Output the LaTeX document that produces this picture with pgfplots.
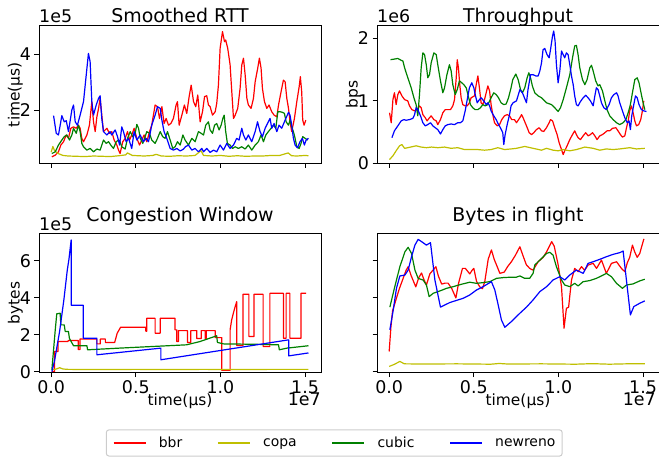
\documentclass[border=0pt]{standalone}
\usepackage{pgfplots}
\pgfplotsset{compat=1.18}
\usepackage{fontspec}
\setmainfont{DejaVu Sans}
\definecolor{mred}{rgb}{1,0,0}
\definecolor{myel}{rgb}{0.75,0.75,0}
\definecolor{mgreen}{rgb}{0,0.5,0}
\definecolor{mblue}{rgb}{0,0,1}
\newcommand\tkf{\fontsize{17.5}{20}\selectfont}
\newcommand\lbf{\fontsize{15.5}{18}\selectfont}
\pgfplotsset{
 every axis title/.style={at={(0.5,1)}, anchor=base, font=\fontsize{19}{22}\selectfont},
 every axis y label/.style={at={(axis description cs:-0.069,0.5)}, rotate=90, anchor=base, font=\lbf},
 every axis x label/.style={at={(axis description cs:0.5,-0.232)}, anchor=base, font=\lbf},
 base/.style={
  scale only axis, width=282bp,
  xmin=-0.072, xmax=1.594,
  xtick={0,0.5,1,1.5},
  xticklabels={0.0,0.5,1.0,1.5},
  tick align=outside, major tick length=4.5bp,
  tick pos=left,
  clip=false,
  axis line style={line width=1bp},
  every tick/.style={black, line width=1bp},
  tick label style={font=\tkf},
  /pgf/number format/assume math mode=true,
  every axis plot/.append style={line width=1.2bp, line join=round},
  axis on top,
 },
 top/.style={base, height=137.3bp, xticklabels={}, title style={yshift=3.5bp}},
 bot/.style={base, height=139.4bp, ymin=-0.05, ymax=7.5, ytick={0,2,4,6}, title style={yshift=12bp}, xlabel={time(μs)}},
}
\begin{document}
\begin{tikzpicture}
\useasboundingbox (0,0) rectangle (659bp,459bp);
% ---------------- Smoothed RTT
\begin{axis}[top, at={(39bp,295.7bp)}, anchor=south west,
  ymin=0.1, ymax=5.0, ytick={2,4}, title={Smoothed RTT}, ylabel={time(μs)}]
\addplot[mred] coordinates {(0.004,0.33)(0.024,0.39)(0.043,0.51)(0.057,0.75)(0.073,0.87)(0.089,1.11)(0.102,0.99)(0.116,1.35)(0.132,1.40)(0.148,1.35)(0.161,1.46)(0.171,1.35)(0.181,0.99)(0.191,0.87)(0.211,1.11)(0.226,1.46)(0.240,2.30)(0.250,1.58)(0.260,1.23)(0.270,1.76)(0.280,2.06)(0.289,2.42)(0.299,1.82)(0.309,1.23)(0.329,1.35)(0.344,1.17)(0.358,1.23)(0.372,0.93)(0.388,0.75)(0.398,0.57)(0.407,0.45)(0.423,0.87)(0.437,0.99)(0.451,1.23)(0.463,0.93)(0.476,1.11)(0.490,1.35)(0.506,0.99)(0.522,0.75)(0.535,0.93)(0.549,1.11)(0.565,0.87)(0.581,1.23)(0.594,1.46)(0.614,2.18)(0.628,2.12)(0.640,1.70)(0.654,2.12)(0.667,1.52)(0.679,1.70)(0.693,1.46)(0.707,1.52)(0.722,1.70)(0.738,2.18)(0.746,2.30)(0.756,1.46)(0.772,1.82)(0.787,2.18)(0.801,1.88)(0.815,2.48)(0.827,2.89)(0.841,2.30)(0.854,2.12)(0.866,2.54)(0.880,1.58)(0.894,1.94)(0.906,2.48)(0.919,2.51)(0.929,2.18)(0.939,2.12)(0.953,1.82)(0.969,1.94)(0.978,2.24)(0.988,2.89)(0.998,4.20)(1.012,4.80)(1.024,4.44)(1.031,4.50)(1.043,4.20)(1.057,3.61)(1.067,2.65)(1.077,1.70)(1.087,1.82)(1.102,2.06)(1.116,2.77)(1.126,3.61)(1.136,3.85)(1.146,3.25)(1.156,2.42)(1.165,2.18)(1.181,2.06)(1.195,2.42)(1.205,3.01)(1.220,3.49)(1.230,3.85)(1.240,3.49)(1.248,2.77)(1.260,2.30)(1.274,2.06)(1.287,2.18)(1.303,1.94)(1.317,1.82)(1.333,1.76)(1.343,2.18)(1.358,2.65)(1.372,3.07)(1.382,3.01)(1.392,2.42)(1.402,2.06)(1.411,1.58)(1.421,1.23)(1.437,1.70)(1.451,2.30)(1.465,2.83)(1.472,3.19)(1.480,2.65)(1.486,1.64)(1.494,1.46)(1.504,1.64)};
\addplot[myel] coordinates {(0,0.5)(0.01,0.7)(0.02,0.55)(0.04,0.45)(0.07,0.38)(0.1,0.36)(0.15,0.35)(0.2,0.34)(0.25,0.36)(0.3,0.35)(0.35,0.34)(0.4,0.37)(0.44,0.40)(0.45,0.47)(0.48,0.38)(0.55,0.36)(0.6,0.38)(0.62,0.42)(0.65,0.36)(0.7,0.35)(0.75,0.37)(0.8,0.36)(0.85,0.38)(0.885,0.55)(0.9,0.38)(0.95,0.36)(1.0,0.38)(1.05,0.35)(1.1,0.37)(1.15,0.35)(1.2,0.36)(1.25,0.36)(1.3,0.38)(1.35,0.38)(1.4,0.47)(1.42,0.37)(1.45,0.36)(1.5,0.38)(1.52,0.37)};
\addplot[mgreen] coordinates {(0.004,0.45)(0.024,0.51)(0.043,0.75)(0.063,0.93)(0.077,1.05)(0.093,1.11)(0.108,0.93)(0.122,1.11)(0.132,1.35)(0.148,1.17)(0.161,1.46)(0.171,1.23)(0.181,0.81)(0.191,0.69)(0.211,0.57)(0.230,0.63)(0.250,0.51)(0.270,0.61)(0.289,0.57)(0.309,0.93)(0.325,0.81)(0.339,0.87)(0.352,0.75)(0.368,0.63)(0.384,0.87)(0.398,0.93)(0.407,0.87)(0.417,0.69)(0.437,0.61)(0.451,0.99)(0.467,1.23)(0.482,1.05)(0.496,1.17)(0.506,1.49)(0.516,1.35)(0.526,0.99)(0.541,0.81)(0.555,1.05)(0.565,1.23)(0.581,1.17)(0.594,0.93)(0.614,0.81)(0.628,0.99)(0.644,1.23)(0.659,1.05)(0.673,0.99)(0.687,1.23)(0.703,0.93)(0.718,0.63)(0.732,0.69)(0.746,0.87)(0.762,0.75)(0.778,1.11)(0.791,0.93)(0.811,0.75)(0.831,0.99)(0.850,0.87)(0.870,1.23)(0.886,1.17)(0.900,1.11)(0.913,1.46)(0.929,1.58)(0.939,1.29)(0.953,1.17)(0.965,1.46)(0.978,1.52)(0.992,1.29)(1.004,1.46)(1.014,1.70)(1.022,1.82)(1.031,1.23)(1.041,0.81)(1.057,0.75)(1.071,0.63)(1.087,0.69)(1.106,0.63)(1.126,0.69)(1.146,0.61)(1.165,0.75)(1.185,0.57)(1.205,0.75)(1.224,0.87)(1.240,1.11)(1.254,0.87)(1.268,1.11)(1.283,1.23)(1.299,1.35)(1.313,1.46)(1.327,1.35)(1.339,1.94)(1.352,1.94)(1.366,1.92)(1.378,1.88)(1.388,1.58)(1.402,1.46)(1.411,1.64)(1.421,1.40)(1.431,1.23)(1.441,0.99)(1.451,0.69)(1.465,0.63)(1.476,0.81)(1.486,1.05)(1.500,0.99)(1.516,0.93)};
\addplot[mblue] coordinates {(0.014,1.80)(0.030,1.17)(0.043,1.11)(0.063,1.80)(0.077,1.58)(0.089,1.62)(0.102,1.23)(0.122,2.00)(0.132,2.18)(0.142,1.58)(0.155,1.46)(0.171,1.82)(0.191,2.30)(0.207,3.25)(0.220,4.02)(0.230,3.73)(0.240,2.30)(0.250,1.82)(0.266,2.18)(0.280,2.42)(0.289,2.51)(0.299,1.70)(0.309,1.23)(0.329,1.11)(0.348,1.23)(0.358,1.11)(0.378,1.29)(0.392,1.05)(0.404,0.75)(0.417,1.40)(0.427,1.23)(0.443,0.87)(0.457,0.99)(0.476,0.63)(0.490,1.23)(0.506,0.93)(0.526,1.11)(0.545,0.87)(0.561,0.99)(0.575,0.87)(0.594,1.46)(0.614,1.82)(0.628,2.12)(0.644,2.06)(0.654,1.64)(0.667,1.23)(0.683,0.99)(0.703,0.63)(0.722,0.57)(0.742,0.63)(0.762,0.54)(0.780,0.60)(0.795,0.70)(0.811,0.75)(0.831,0.57)(0.850,0.63)(0.870,0.51)(0.890,0.63)(0.900,0.51)(0.919,0.63)(0.939,0.49)(0.959,0.57)(0.978,0.51)(0.998,0.75)(1.018,0.57)(1.037,0.81)(1.057,0.63)(1.077,0.75)(1.096,0.99)(1.110,0.93)(1.126,1.35)(1.136,1.11)(1.150,0.93)(1.165,1.11)(1.185,0.87)(1.205,1.23)(1.219,1.58)(1.234,1.23)(1.248,1.05)(1.264,1.35)(1.283,1.58)(1.293,1.70)(1.303,1.35)(1.317,1.52)(1.333,1.23)(1.346,1.46)(1.362,1.35)(1.382,1.64)(1.402,1.92)(1.411,1.82)(1.421,1.46)(1.431,0.99)(1.441,0.75)(1.455,0.65)(1.470,0.87)(1.484,0.99)(1.496,0.75)(1.506,0.93)(1.520,0.99)};
\node[anchor=base west, font=\tkf, inner sep=0pt] at (rel axis cs:0,1) [yshift=3bp] {1e5};
\end{axis}
% ---------------- Throughput
\begin{axis}[top, at={(377bp,295.7bp)}, anchor=south west,
  ymin=0, ymax=2.2, ytick={0,1,2}, title={Throughput}, ylabel={bps}]
\addplot[mred] coordinates {(0.002,0.81)(0.012,0.65)(0.022,1.02)(0.031,1.13)(0.041,0.94)(0.051,1.10)(0.061,1.16)(0.075,1.08)(0.091,1.02)(0.110,1.00)(0.120,0.92)(0.134,0.86)(0.150,0.84)(0.165,0.86)(0.179,0.92)(0.189,0.89)(0.199,0.78)(0.213,0.73)(0.224,0.68)(0.238,0.73)(0.248,0.76)(0.264,0.70)(0.278,0.68)(0.287,0.62)(0.303,0.70)(0.317,0.81)(0.331,0.86)(0.346,0.86)(0.362,0.86)(0.376,0.92)(0.386,1.02)(0.396,1.37)(0.402,1.66)(0.409,1.53)(0.417,1.26)(0.425,1.05)(0.435,0.94)(0.449,0.92)(0.461,0.92)(0.474,0.97)(0.484,1.05)(0.504,1.08)(0.514,1.26)(0.524,1.40)(0.533,1.21)(0.543,0.97)(0.553,0.94)(0.563,1.02)(0.573,1.13)(0.583,1.24)(0.593,1.16)(0.602,0.94)(0.612,0.78)(0.622,0.65)(0.638,0.60)(0.652,0.62)(0.665,0.70)(0.681,0.76)(0.697,0.78)(0.711,0.76)(0.724,0.70)(0.740,0.70)(0.752,0.65)(0.772,0.73)(0.782,0.78)(0.791,0.73)(0.811,0.60)(0.827,0.49)(0.841,0.46)(0.854,0.49)(0.870,0.54)(0.886,0.57)(0.900,0.52)(0.913,0.51)(0.929,0.57)(0.945,0.65)(0.953,0.70)(0.965,0.68)(0.978,0.57)(0.992,0.46)(1.004,0.33)(1.018,0.22)(1.028,0.14)(1.037,0.20)(1.051,0.28)(1.067,0.38)(1.083,0.46)(1.096,0.52)(1.106,0.46)(1.116,0.41)(1.130,0.38)(1.146,0.44)(1.161,0.49)(1.175,0.44)(1.189,0.46)(1.201,0.49)(1.215,0.44)(1.228,0.38)(1.244,0.44)(1.260,0.46)(1.274,0.49)(1.287,0.52)(1.303,0.52)(1.319,0.56)(1.339,0.57)(1.352,0.52)(1.366,0.46)(1.378,0.42)(1.392,0.44)(1.402,0.57)(1.412,0.68)(1.421,0.84)(1.431,0.92)(1.441,0.81)(1.451,0.68)(1.461,0.60)(1.474,0.62)(1.486,0.70)(1.496,0.84)(1.504,1.00)};
\addplot[myel] coordinates {(0.002,0.06)(0.022,0.12)(0.041,0.20)(0.061,0.28)(0.075,0.30)(0.091,0.24)(0.110,0.25)(0.159,0.28)(0.189,0.26)(0.220,0.25)(0.250,0.26)(0.287,0.25)(0.327,0.26)(0.366,0.24)(0.405,0.25)(0.445,0.22)(0.484,0.22)(0.524,0.22)(0.563,0.21)(0.602,0.22)(0.642,0.25)(0.681,0.22)(0.720,0.23)(0.752,0.24)(0.801,0.27)(0.850,0.24)(0.900,0.21)(0.929,0.24)(0.969,0.21)(0.998,0.20)(1.028,0.22)(1.067,0.20)(1.106,0.22)(1.156,0.26)(1.205,0.24)(1.244,0.21)(1.283,0.23)(1.323,0.22)(1.362,0.23)(1.421,0.25)(1.461,0.23)(1.510,0.24)};
\addplot[mgreen] coordinates {(0.008,1.66)(0.031,1.67)(0.051,1.68)(0.071,1.65)(0.081,1.64)(0.091,1.53)(0.110,1.37)(0.130,1.21)(0.146,1.05)(0.159,0.94)(0.169,0.76)(0.179,1.10)(0.189,1.53)(0.199,1.77)(0.209,1.74)(0.219,1.58)(0.228,1.37)(0.238,1.42)(0.248,1.61)(0.264,1.77)(0.278,1.74)(0.287,1.58)(0.303,1.32)(0.317,1.13)(0.327,1.21)(0.341,1.42)(0.356,1.58)(0.366,1.48)(0.376,1.26)(0.390,1.10)(0.402,1.18)(0.415,1.32)(0.429,1.29)(0.441,1.26)(0.455,1.21)(0.465,1.10)(0.480,0.94)(0.494,0.89)(0.508,0.86)(0.524,0.86)(0.539,0.89)(0.553,0.94)(0.567,0.92)(0.583,0.94)(0.602,1.05)(0.618,1.13)(0.632,1.10)(0.646,1.05)(0.661,0.97)(0.677,0.94)(0.691,0.95)(0.705,1.05)(0.720,1.21)(0.730,1.34)(0.736,1.37)(0.748,1.43)(0.762,1.34)(0.776,1.18)(0.787,1.13)(0.801,1.21)(0.815,1.37)(0.825,1.45)(0.835,1.37)(0.846,1.24)(0.860,1.13)(0.880,1.08)(0.900,1.05)(0.929,0.97)(0.959,0.94)(0.978,0.89)(0.998,0.83)(1.012,0.89)(1.028,1.02)(1.047,1.21)(1.067,1.42)(1.083,1.69)(1.096,1.88)(1.106,1.89)(1.116,1.74)(1.126,1.53)(1.142,1.34)(1.156,1.26)(1.169,1.34)(1.185,1.53)(1.195,1.57)(1.205,1.48)(1.220,1.32)(1.234,1.24)(1.244,1.26)(1.260,1.16)(1.274,1.00)(1.287,0.86)(1.303,0.76)(1.323,0.70)(1.343,0.65)(1.362,0.62)(1.382,0.65)(1.398,0.70)(1.412,0.81)(1.425,0.94)(1.437,1.13)(1.451,1.34)(1.465,1.37)(1.476,1.29)(1.490,1.10)(1.500,0.97)(1.510,0.86)};
\addplot[mblue] coordinates {(0.016,0.41)(0.031,0.52)(0.051,0.60)(0.071,0.68)(0.087,0.70)(0.100,0.69)(0.120,0.70)(0.140,0.72)(0.150,0.78)(0.159,0.89)(0.169,0.86)(0.185,0.76)(0.199,0.65)(0.213,0.60)(0.228,0.62)(0.244,0.65)(0.258,0.60)(0.272,0.57)(0.287,0.54)(0.303,0.47)(0.317,0.54)(0.331,0.60)(0.346,0.62)(0.366,0.63)(0.386,0.62)(0.405,0.65)(0.421,0.65)(0.435,0.68)(0.449,0.84)(0.461,1.02)(0.474,1.21)(0.488,1.29)(0.500,1.21)(0.510,1.08)(0.520,0.97)(0.533,1.02)(0.543,1.05)(0.559,1.00)(0.573,0.94)(0.583,0.97)(0.593,0.92)(0.602,0.84)(0.618,0.76)(0.632,0.70)(0.646,0.62)(0.657,0.57)(0.671,0.49)(0.677,0.30)(0.685,0.46)(0.697,0.62)(0.711,0.78)(0.720,0.92)(0.732,0.97)(0.752,1.00)(0.772,1.18)(0.787,1.13)(0.811,0.97)(0.820,1.18)(0.835,1.42)(0.850,1.42)(0.866,1.40)(0.880,1.40)(0.890,1.48)(0.900,1.61)(0.909,1.82)(0.919,1.84)(0.933,1.74)(0.945,1.69)(0.953,1.82)(0.965,2.04)(0.972,2.12)(0.980,1.96)(0.988,1.58)(0.998,1.29)(1.008,1.48)(1.018,1.80)(1.028,1.74)(1.037,1.69)(1.047,1.77)(1.057,1.74)(1.067,1.58)(1.077,1.40)(1.087,1.26)(1.096,1.08)(1.106,0.94)(1.116,0.92)(1.130,0.99)(1.146,1.05)(1.161,1.09)(1.175,1.05)(1.189,1.00)(1.205,0.92)(1.215,1.08)(1.224,1.21)(1.234,1.18)(1.244,1.08)(1.254,0.97)(1.268,0.89)(1.283,0.86)(1.299,0.94)(1.313,1.05)(1.327,1.10)(1.343,1.13)(1.352,1.08)(1.362,0.97)(1.378,0.84)(1.392,0.73)(1.406,0.65)(1.417,0.68)(1.425,0.54)(1.433,0.76)(1.445,0.94)(1.455,1.08)(1.465,1.05)(1.476,0.94)(1.490,0.86)(1.504,0.84)(1.520,0.83)};
\node[anchor=base west, font=\tkf, inner sep=0pt] at (rel axis cs:0,1) [yshift=3bp] {1e6};
\end{axis}
% ---------------- Congestion Window
\begin{axis}[bot, at={(39bp,86.3bp)}, anchor=south west,
  title={Congestion Window}, ylabel={bytes},
  legend columns=4,
  legend image code/.code={\draw[#1, line width=1.2bp] (0bp,0bp) -- (32bp,0bp);},
  legend style={at={(1.047,-0.504)}, anchor=center, draw=black!20, line width=1bp,
    rounded corners=2.5bp, fill=white, inner xsep=6.7bp, inner ysep=7bp,
    font=\fontsize{14}{16}\selectfont, nodes={inner sep=0pt},
    /tikz/every odd column/.append style={column sep=12.6bp},
    /tikz/every even column/.append style={column sep=35bp}}]
\addplot[mred] coordinates {(0.004,0)(0.02,0)(0.02,1.1)(0.04,1.1)(0.04,1.64)(0.10,1.64)(0.10,1.69)(0.16,1.69)(0.16,1.2)(0.17,1.2)(0.17,1.77)(0.27,1.77)(0.27,1.51)(0.29,1.51)(0.29,1.77)(0.32,1.77)(0.32,1.59)(0.375,1.59)(0.39,2.09)(0.41,2.41)(0.559,2.41)(0.559,2.2)(0.565,2.2)(0.565,2.9)(0.614,2.9)(0.614,2.09)(0.644,2.09)(0.644,2.9)(0.732,2.9)(0.732,2.27)(0.742,2.27)(0.742,1.64)(0.752,1.64)(0.752,2.23)(0.805,2.23)(0.805,1.59)(0.825,1.59)(0.825,2.23)(0.86,2.23)(0.86,1.8)(0.886,1.8)(0.886,2.23)(0.91,2.23)(0.91,1.8)(0.916,1.8)(0.916,2.23)(0.969,2.23)(0.969,1.85)(1.008,1.85)(1.008,0.08)(1.057,0.08)(1.057,2.27)(1.066,2.8)(1.076,3.17)(1.086,3.5)(1.096,3.8)(1.096,1.42)(1.133,1.42)(1.133,4.2)(1.168,4.2)(1.168,1.91)(1.198,1.91)(1.198,4.2)(1.252,4.2)(1.252,1.37)(1.292,1.37)(1.292,4.25)(1.372,4.25)(1.372,1.82)(1.388,1.82)(1.388,4.25)(1.41,4.25)(1.41,1.82)(1.476,1.82)(1.476,4.25)(1.506,4.25)};
\addplot[myel] coordinates {(0.004,0.1)(0.03,0.15)(0.05,0.22)(0.07,0.15)(0.1,0.13)(0.3,0.12)(0.5,0.13)(0.7,0.12)(0.9,0.13)(1.1,0.12)(1.3,0.13)(1.52,0.13)};
\addplot[mgreen] coordinates {(0.004,0.1)(0.024,2.27)(0.033,3.14)(0.053,3.17)(0.057,2.54)(0.077,2.54)(0.083,2.18)(0.102,2.18)(0.108,1.8)(0.132,1.41)(0.211,1.41)(0.215,1.19)(0.40,1.28)(0.60,1.37)(0.80,1.46)(0.88,1.64)(0.978,1.95)(0.982,1.59)(1.018,1.51)(1.2,1.49)(1.343,1.46)(1.348,1.19)(1.392,1.28)(1.52,1.41)};
\addplot[mblue] coordinates {(0.004,0.0)(0.02,0.6)(0.05,2.2)(0.075,3.9)(0.095,5.5)(0.105,6.1)(0.118,7.14)(0.118,3.6)(0.19,3.6)(0.19,1.82)(0.27,1.82)(0.27,0.92)(0.648,1.28)(0.648,0.65)(1.403,1.73)(1.403,0.86)(1.52,1.02)};
\legend{bbr,copa,cubic,newreno}
\node[anchor=base west, font=\tkf, inner sep=0pt] at (rel axis cs:0,1) [yshift=3bp] {1e5};
\node[anchor=base east, font=\tkf, inner sep=0pt] at (rel axis cs:1,-0.232) {1e7};
\end{axis}
% ---------------- Bytes in flight
\begin{axis}[bot, at={(377bp,86.3bp)}, anchor=south west,
  title={Bytes in flight}, yticklabels={}]
\addplot[mred] coordinates {(0,1.1)(0.01,2.4)(0.02,3.3)(0.04,3.9)(0.06,4.5)(0.08,5.0)(0.1,5.5)(0.112,5.69)(0.13,5.2)(0.157,4.6)(0.175,5.1)(0.191,5.35)(0.205,5.0)(0.22,4.7)(0.24,5.3)(0.276,5.69)(0.29,5.2)(0.31,4.75)(0.33,4.8)(0.348,4.8)(0.37,4.5)(0.394,4.0)(0.41,4.8)(0.433,5.6)(0.45,5.6)(0.476,5.3)(0.49,5.5)(0.5,5.6)(0.516,4.9)(0.535,4.6)(0.551,4.5)(0.565,4.9)(0.585,6.1)(0.604,6.6)(0.62,6.1)(0.654,5.33)(0.68,5.4)(0.7,5.7)(0.722,5.96)(0.745,6.3)(0.772,6.77)(0.79,6.3)(0.81,5.8)(0.83,5.6)(0.85,5.5)(0.88,5.96)(0.91,6.2)(0.93,6.5)(0.96,7.05)(0.975,6.8)(0.998,5.8)(1.018,4.6)(1.033,2.36)(1.047,3.44)(1.06,3.5)(1.077,4.97)(1.096,5.6)(1.116,5.42)(1.136,5.69)(1.155,5.5)(1.175,5.78)(1.205,5.87)(1.225,5.6)(1.254,6.05)(1.283,5.33)(1.313,5.87)(1.343,5.96)(1.372,5.6)(1.392,5.42)(1.407,5.91)(1.421,6.2)(1.437,6.86)(1.45,6.5)(1.465,6.2)(1.48,6.4)(1.5,7.05)(1.505,7.2)};
\addplot[myel] coordinates {(0,0.29)(0.03,0.4)(0.063,0.56)(0.09,0.43)(0.2,0.42)(0.4,0.43)(0.6,0.41)(0.65,0.45)(0.7,0.42)(0.9,0.43)(1.1,0.41)(1.2,0.44)(1.3,0.41)(1.4,0.43)(1.51,0.43)};
\addplot[mgreen] coordinates {(0.004,3.5)(0.033,4.61)(0.063,5.69)(0.093,6.5)(0.112,6.74)(0.132,6.41)(0.152,5.51)(0.171,5.06)(0.2,4.97)(0.22,4.7)(0.236,4.07)(0.26,4.25)(0.3,4.38)(0.339,4.52)(0.378,4.61)(0.427,4.74)(0.476,4.85)(0.516,4.79)(0.555,4.83)(0.594,4.88)(0.634,5.06)(0.673,5.1)(0.713,5.12)(0.75,5.12)(0.772,5.19)(0.8,5.06)(0.83,5.06)(0.85,5.33)(0.86,5.78)(0.89,6.05)(0.93,6.41)(0.949,6.47)(0.968,6.32)(0.988,5.69)(1.018,4.97)(1.037,4.7)(1.067,4.61)(1.096,4.79)(1.116,4.65)(1.146,4.88)(1.185,4.94)(1.224,5.06)(1.254,5.19)(1.283,5.33)(1.313,5.15)(1.343,4.79)(1.378,4.52)(1.402,4.7)(1.441,4.76)(1.48,4.92)(1.51,5.01)};
\addplot[mblue] coordinates {(0.004,2.27)(0.024,3.35)(0.043,4.52)(0.063,5.19)(0.093,5.24)(0.112,5.51)(0.132,6.23)(0.152,6.86)(0.171,7.17)(0.191,7.05)(0.22,6.86)(0.244,6.99)(0.27,4.97)(0.303,3.5)(0.358,3.75)(0.437,3.98)(0.476,4.16)(0.516,4.43)(0.555,4.61)(0.604,4.88)(0.624,4.43)(0.644,3.62)(0.663,2.81)(0.683,2.41)(0.722,2.72)(0.772,3.17)(0.811,3.5)(0.85,3.89)(0.89,4.34)(0.93,4.61)(0.968,4.97)(1.008,5.15)(1.037,4.97)(1.067,5.24)(1.106,5.51)(1.146,5.33)(1.175,5.87)(1.205,5.96)(1.244,6.09)(1.283,6.23)(1.323,6.36)(1.362,6.45)(1.382,6.54)(1.406,4.61)(1.425,3.08)(1.445,3.53)(1.48,3.71)(1.51,3.84)};
\node[anchor=base east, font=\tkf, inner sep=0pt] at (rel axis cs:1,-0.232) [xshift=-3bp] {1e7};
\end{axis}
\end{tikzpicture}
\end{document}
